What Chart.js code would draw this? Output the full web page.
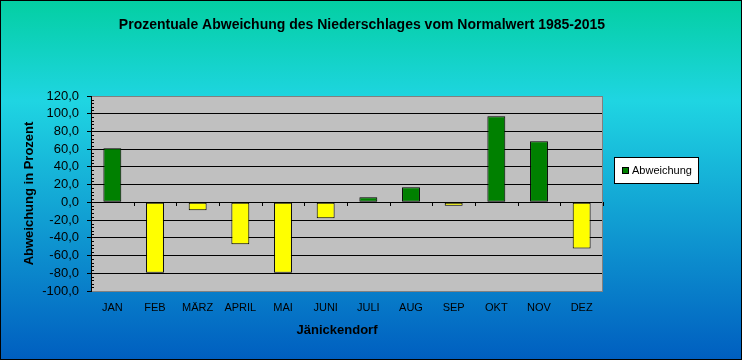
<!DOCTYPE html>
<html>
<head>
<meta charset="utf-8">
<script src="https://cdn.jsdelivr.net/npm/chart.js@4.4.1/dist/chart.umd.min.js"></script>
<style>
html,body{margin:0;padding:0;background:#fff;}
#wrap{width:742px;height:360px;position:relative;}
</style>
</head>
<body>
<div id="wrap"><canvas id="c" width="742" height="360"></canvas></div>
<script>
// ---- data ----
const chartTitle = 'Prozentuale Abweichung des Niederschlages vom Normalwert 1985-2015';
const xTitle = 'Jänickendorf';
const yTitle = 'Abweichung in Prozent';
const seriesName = 'Abweichung';
const months = ['JAN','FEB','MÄRZ','APRIL','MAI','JUNI','JULI','AUG','SEP','OKT','NOV','DEZ'];
const deviation = [61.0, -79.3, -8.9, -47.3, -79.3, -18.0, 5.8, 17.0, -3.7, 97.2, 69.0, -52.0];
const yMin = -100, yMax = 120, yStep = 20, yMinorStep = 4;

const FONT = '"Liberation Sans", Arial, sans-serif';
const POS = '#008000', NEG = '#ffff00';

const deco = {
  id: 'deco',
  beforeDraw(chart) {
    const {ctx, width, height, chartArea: a} = chart;
    ctx.save();
    const g = ctx.createLinearGradient(0, 0, 0, height);
    g.addColorStop(0, '#03cfa2');
    g.addColorStop(0.28, '#1fd5e2');
    g.addColorStop(1, '#005ec0');
    ctx.fillStyle = g;
    ctx.fillRect(0, 0, width, height);
    ctx.fillStyle = '#c0c0c0';
    ctx.fillRect(a.left, a.top, a.right - a.left, a.bottom - a.top);
    ctx.restore();
  },
  afterDatasetsDraw(chart) {
    const {ctx, chartArea: a, scales} = chart;
    const y = scales.y, x = scales.x;
    ctx.save();
    ctx.lineWidth = 1;
    // right border of plot
    ctx.strokeStyle = '#808080';
    ctx.beginPath();
    const rx = Math.round(a.right) - 0.5;
    ctx.moveTo(rx, a.top); ctx.lineTo(rx, a.bottom);
    ctx.stroke();
    // minor ticks on value axis (inside)
    ctx.strokeStyle = '#000';
    ctx.beginPath();
    for (let v = yMin; v <= yMax; v += yMinorStep) {
      if (v % yStep === 0) continue;
      const py = Math.round(y.getPixelForValue(v)) + 0.5;
      ctx.moveTo(a.left, py); ctx.lineTo(a.left + 3, py);
    }
    ctx.stroke();
    // category boundary ticks along zero line
    const zy = Math.round(y.getPixelForValue(0));
    const n = months.length;
    ctx.beginPath();
    for (let i = 1; i <= n; i++) {
      const px = Math.round(x.getPixelForValue(i - 0.5)) + 0.5;
      ctx.moveTo(px, zy); ctx.lineTo(px, zy + 4);
    }
    ctx.stroke();
    ctx.restore();
  },
  afterDraw(chart) {
    const {ctx, width, height, chartArea: a} = chart;
    ctx.save();
    // outer border
    ctx.strokeStyle = '#000';
    ctx.lineWidth = 1;
    ctx.strokeRect(0.5, 0.5, width - 1, height - 1);
    // main title
    ctx.fillStyle = '#000';
    ctx.font = 'bold 14px ' + FONT;
    ctx.textAlign = 'center';
    ctx.textBaseline = 'alphabetic';
    ctx.fillText(chartTitle, 362, 29);
    // x axis title
    ctx.font = 'bold 13px ' + FONT;
    ctx.fillText(xTitle, 337, 334);
    // legend
    const ds = chart.data.datasets[0];
    const lx = a.right + 11, ly = 157;
    ctx.fillStyle = '#fff';
    ctx.fillRect(lx, ly, 85, 27);
    ctx.strokeStyle = '#000';
    ctx.strokeRect(lx + 0.5, ly + 0.5, 84, 26);
    ctx.fillStyle = POS;
    ctx.fillRect(lx + 8, ly + 10, 7, 7);
    ctx.strokeRect(lx + 8.5, ly + 10.5, 6, 6);
    ctx.fillStyle = '#000';
    ctx.font = '11px ' + FONT;
    ctx.textAlign = 'left';
    ctx.fillText(ds.label, lx + 18, ly + 17);
    ctx.restore();
  }
};

new Chart(document.getElementById('c'), {
  type: 'bar',
  data: {
    labels: months,
    datasets: [{
      label: seriesName,
      data: deviation,
      backgroundColor: deviation.map(v => v >= 0 ? POS : NEG),
      borderColor: '#000',
      borderWidth: 1,
      borderSkipped: false,
      categoryPercentage: 1,
      barPercentage: 0.42
    }]
  },
  options: {
    responsive: false,
    devicePixelRatio: 1,
    animation: false,
    layout: {padding: {left: 0, right: 139, top: 96, bottom: 0}},
    plugins: {legend: {display: false}, tooltip: {enabled: false}, title: {display: false}},
    scales: {
      x: {
        grid: {display: false, drawTicks: false},
        border: {display: false},
        ticks: {font: {family: FONT, size: 11}, color: '#000', padding: 10, maxRotation: 0, autoSkip: false},
        afterFit(s) { s.height = 69; }
      },
      y: {
        min: yMin, max: yMax,
        grid: {
          color: c => (c.tick && (c.tick.value === yMin || c.tick.value === yMax)) ? '#808080' : '#000',
          tickColor: '#000', tickLength: 4, drawTicks: true, lineWidth: 1
        },
        border: {display: true, color: '#000', width: 1},
        ticks: {
          stepSize: yStep,
          autoSkip: false,
          font: {family: FONT, size: 13},
          color: '#000',
          padding: 8,
          callback: v => Number(v).toFixed(1).replace('.', ',')
        },
        title: {display: true, text: yTitle, color: '#000', font: {family: FONT, size: 13, weight: 'bold'}, padding: {top: 22, bottom: 0}},
        afterFit(s) { s.width = 91; }
      }
    }
  },
  plugins: [deco]
});
</script>
</body>
</html>
